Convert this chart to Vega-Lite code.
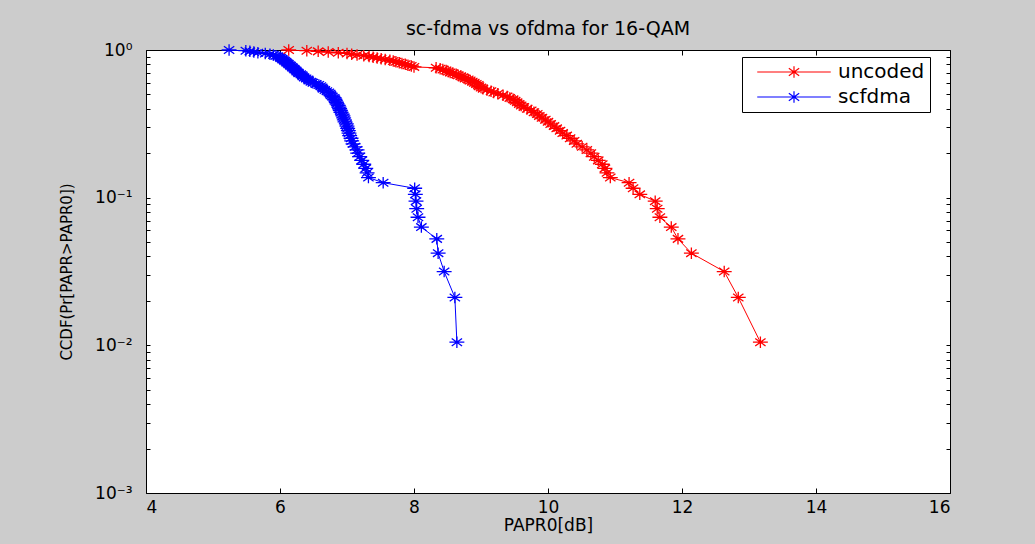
{
  "$schema": "https://vega.github.io/schema/vega-lite/v6.json",
  "width": 804,
  "height": 443,
  "autosize": {"type": "none"},
  "padding": {"left": 146, "top": 50, "right": 85, "bottom": 51},
  "background": "#cccccc",
  "title": {"text": "sc-fdma vs ofdma for 16-QAM", "font": "DejaVu Sans", "fontSize": 19, "fontWeight": "normal", "color": "black", "anchor": "middle", "offset": 2},
  "config": {
    "view": {"fill": "white", "stroke": "black", "strokeWidth": 1},
    "axis": {"grid": false, "domain": false, "tickColor": "black", "tickWidth": 1, "labelColor": "black", "labelFont": "DejaVu Sans", "labelFontSize": 17, "titleFont": "DejaVu Sans", "titleColor": "black", "titleFontWeight": "normal"},
    "legend": {"orient": "none", "legendX": 596, "legendY": 7, "strokeColor": "black", "fillColor": "white",
               "padding": 5, "symbolType": "M-6.4,0H6.4M0,-1V1M-0.9,-0.65L0.9,0.65M-0.9,0.65L0.9,-0.65", "symbolSize": 132, "symbolStrokeWidth": 1.2,
               "labelFont": "DejaVu Sans", "labelFontSize": 20, "labelColor": "black", "rowPadding": 5, "symbolOffset": 37, "labelOffset": 34,
               "labelExpr": "datum.label + '  '"}
  },
  "data": {"values": [
    {"p": 0.0105, "uncoded": 13.17, "scfdma": 8.64},
    {"p": 0.0211, "uncoded": 12.84, "scfdma": 8.61},
    {"p": 0.0316, "uncoded": 12.63, "scfdma": 8.45},
    {"p": 0.0421, "uncoded": 12.14, "scfdma": 8.36},
    {"p": 0.0526, "uncoded": 11.94, "scfdma": 8.34},
    {"p": 0.0632, "uncoded": 11.84, "scfdma": 8.11},
    {"p": 0.0737, "uncoded": 11.67, "scfdma": 8.06},
    {"p": 0.0842, "uncoded": 11.63, "scfdma": 8.04},
    {"p": 0.0947, "uncoded": 11.60, "scfdma": 8.03},
    {"p": 0.1053, "uncoded": 11.37, "scfdma": 8.02},
    {"p": 0.1158, "uncoded": 11.27, "scfdma": 8.01},
    {"p": 0.1263, "uncoded": 11.21, "scfdma": 7.54},
    {"p": 0.1368, "uncoded": 10.93, "scfdma": 7.32},
    {"p": 0.1474, "uncoded": 10.88, "scfdma": 7.30},
    {"p": 0.1579, "uncoded": 10.85, "scfdma": 7.28},
    {"p": 0.1684, "uncoded": 10.81, "scfdma": 7.25},
    {"p": 0.1789, "uncoded": 10.75, "scfdma": 7.22},
    {"p": 0.1895, "uncoded": 10.69, "scfdma": 7.19},
    {"p": 0.2, "uncoded": 10.64, "scfdma": 7.16},
    {"p": 0.2105, "uncoded": 10.58, "scfdma": 7.15},
    {"p": 0.2211, "uncoded": 10.51, "scfdma": 7.12},
    {"p": 0.2316, "uncoded": 10.43, "scfdma": 7.09},
    {"p": 0.2421, "uncoded": 10.39, "scfdma": 7.07},
    {"p": 0.2526, "uncoded": 10.33, "scfdma": 7.06},
    {"p": 0.2632, "uncoded": 10.28, "scfdma": 7.04},
    {"p": 0.2737, "uncoded": 10.22, "scfdma": 7.03},
    {"p": 0.2842, "uncoded": 10.18, "scfdma": 7.02},
    {"p": 0.2947, "uncoded": 10.13, "scfdma": 7.01},
    {"p": 0.3053, "uncoded": 10.09, "scfdma": 7.00},
    {"p": 0.3158, "uncoded": 10.04, "scfdma": 6.99},
    {"p": 0.3263, "uncoded": 10.00, "scfdma": 6.97},
    {"p": 0.3368, "uncoded": 9.96, "scfdma": 6.96},
    {"p": 0.3474, "uncoded": 9.91, "scfdma": 6.95},
    {"p": 0.3579, "uncoded": 9.87, "scfdma": 6.94},
    {"p": 0.3684, "uncoded": 9.84, "scfdma": 6.93},
    {"p": 0.3789, "uncoded": 9.79, "scfdma": 6.91},
    {"p": 0.3895, "uncoded": 9.75, "scfdma": 6.90},
    {"p": 0.4, "uncoded": 9.69, "scfdma": 6.89},
    {"p": 0.4105, "uncoded": 9.64, "scfdma": 6.88},
    {"p": 0.4211, "uncoded": 9.60, "scfdma": 6.87},
    {"p": 0.4316, "uncoded": 9.57, "scfdma": 6.85},
    {"p": 0.4421, "uncoded": 9.54, "scfdma": 6.84},
    {"p": 0.4526, "uncoded": 9.51, "scfdma": 6.83},
    {"p": 0.4632, "uncoded": 9.48, "scfdma": 6.82},
    {"p": 0.4737, "uncoded": 9.43, "scfdma": 6.81},
    {"p": 0.4842, "uncoded": 9.39, "scfdma": 6.78},
    {"p": 0.4947, "uncoded": 9.33, "scfdma": 6.76},
    {"p": 0.5053, "uncoded": 9.25, "scfdma": 6.75},
    {"p": 0.5158, "uncoded": 9.19, "scfdma": 6.73},
    {"p": 0.5263, "uncoded": 9.15, "scfdma": 6.70},
    {"p": 0.5368, "uncoded": 9.09, "scfdma": 6.67},
    {"p": 0.5474, "uncoded": 9.03, "scfdma": 6.64},
    {"p": 0.5579, "uncoded": 9.00, "scfdma": 6.63},
    {"p": 0.5684, "uncoded": 8.97, "scfdma": 6.61},
    {"p": 0.5789, "uncoded": 8.96, "scfdma": 6.58},
    {"p": 0.5895, "uncoded": 8.93, "scfdma": 6.54},
    {"p": 0.6, "uncoded": 8.90, "scfdma": 6.49},
    {"p": 0.6105, "uncoded": 8.87, "scfdma": 6.46},
    {"p": 0.6211, "uncoded": 8.84, "scfdma": 6.43},
    {"p": 0.6316, "uncoded": 8.81, "scfdma": 6.42},
    {"p": 0.6421, "uncoded": 8.76, "scfdma": 6.39},
    {"p": 0.6526, "uncoded": 8.73, "scfdma": 6.36},
    {"p": 0.6632, "uncoded": 8.70, "scfdma": 6.34},
    {"p": 0.6737, "uncoded": 8.66, "scfdma": 6.33},
    {"p": 0.6842, "uncoded": 8.63, "scfdma": 6.31},
    {"p": 0.6947, "uncoded": 8.58, "scfdma": 6.28},
    {"p": 0.7053, "uncoded": 8.54, "scfdma": 6.27},
    {"p": 0.7158, "uncoded": 8.51, "scfdma": 6.25},
    {"p": 0.7263, "uncoded": 8.48, "scfdma": 6.24},
    {"p": 0.7368, "uncoded": 8.43, "scfdma": 6.22},
    {"p": 0.7474, "uncoded": 8.39, "scfdma": 6.21},
    {"p": 0.7579, "uncoded": 8.33, "scfdma": 6.19},
    {"p": 0.7684, "uncoded": 8.00, "scfdma": 6.18},
    {"p": 0.7789, "uncoded": 7.96, "scfdma": 6.16},
    {"p": 0.7895, "uncoded": 7.91, "scfdma": 6.15},
    {"p": 0.8, "uncoded": 7.87, "scfdma": 6.13},
    {"p": 0.8105, "uncoded": 7.82, "scfdma": 6.12},
    {"p": 0.8211, "uncoded": 7.78, "scfdma": 6.10},
    {"p": 0.8316, "uncoded": 7.73, "scfdma": 6.09},
    {"p": 0.8421, "uncoded": 7.69, "scfdma": 6.07},
    {"p": 0.8526, "uncoded": 7.64, "scfdma": 6.06},
    {"p": 0.8632, "uncoded": 7.57, "scfdma": 6.04},
    {"p": 0.8737, "uncoded": 7.51, "scfdma": 6.03},
    {"p": 0.8842, "uncoded": 7.45, "scfdma": 6.01},
    {"p": 0.8947, "uncoded": 7.39, "scfdma": 6.00},
    {"p": 0.9053, "uncoded": 7.33, "scfdma": 5.97},
    {"p": 0.9158, "uncoded": 7.25, "scfdma": 5.94},
    {"p": 0.9263, "uncoded": 7.15, "scfdma": 5.90},
    {"p": 0.9368, "uncoded": 7.07, "scfdma": 5.85},
    {"p": 0.9474, "uncoded": 7.00, "scfdma": 5.78},
    {"p": 0.9579, "uncoded": 6.87, "scfdma": 5.67},
    {"p": 0.9684, "uncoded": 6.72, "scfdma": 5.61},
    {"p": 0.9789, "uncoded": 6.57, "scfdma": 5.55},
    {"p": 0.9895, "uncoded": 6.40, "scfdma": 5.49},
    {"p": 1, "uncoded": 6.13, "scfdma": 5.24}
  ]},
  "transform": [{"fold": ["uncoded", "scfdma"], "as": ["series", "x"]}],
  "resolve": {"axis": {"x": "independent", "y": "independent"}},
  "layer": [
    {
      "mark": {"type": "line", "strokeWidth": 1, "clip": true},
      "encoding": {
        "x": {"field": "x", "type": "quantitative", "scale": {"domain": [4, 16], "nice": false, "zero": false},
              "axis": {"orient": "bottom", "values": [4, 6, 8, 10, 12, 14, 16], "tickSize": -5, "labelPadding": 11, "title": "PAPR0[dB]", "titleFontSize": 17, "titlePadding": 2}},
        "y": {"field": "p", "type": "quantitative", "scale": {"type": "log", "domain": [0.001, 1], "nice": false},
              "axis": {"orient": "left", "values": [0.001, 0.002, 0.003, 0.004, 0.005, 0.006, 0.007, 0.008, 0.009, 0.01, 0.02, 0.03, 0.04, 0.05, 0.06, 0.07, 0.08, 0.09, 0.1, 0.2, 0.3, 0.4, 0.5, 0.6, 0.7, 0.8, 0.9, 1],
                       "labelExpr": "datum.value == 1 ? '10⁰' : datum.value == 0.1 ? '10⁻¹' : datum.value == 0.01 ? '10⁻²' : datum.value == 0.001 ? '10⁻³' : ''",
                       "tickSize": -4, "labelPadding": 18, "title": "CCDF(Pr[PAPR>PAPR0])", "titleFontSize": 15, "titlePadding": 20}},
        "color": {"field": "series", "type": "nominal", "scale": {"domain": ["uncoded", "scfdma"], "range": ["#ff0000", "#0000ff"]}, "legend": {"title": null}},
        "order": {"field": "p", "type": "quantitative"}
      }
    },
    {
      "mark": {"type": "point", "shape": "M-1.3,0H1.3M0,-1V1M-0.9,-0.65L0.9,0.65M-0.9,0.65L0.9,-0.65", "filled": false, "size": 132, "strokeWidth": 1.3, "opacity": 1},
      "encoding": {
        "x": {"field": "x", "type": "quantitative", "scale": {"domain": [4, 16], "nice": false, "zero": false},
              "axis": {"orient": "top", "values": [4, 6, 8, 10, 12, 14, 16], "tickSize": -5, "labels": false, "title": null}},
        "y": {"field": "p", "type": "quantitative", "scale": {"type": "log", "domain": [0.001, 1], "nice": false},
              "axis": {"orient": "right", "values": [0.001, 0.002, 0.003, 0.004, 0.005, 0.006, 0.007, 0.008, 0.009, 0.01, 0.02, 0.03, 0.04, 0.05, 0.06, 0.07, 0.08, 0.09, 0.1, 0.2, 0.3, 0.4, 0.5, 0.6, 0.7, 0.8, 0.9, 1], "tickSize": -4, "labels": false, "title": null}},
        "color": {"field": "series", "type": "nominal", "scale": {"domain": ["uncoded", "scfdma"], "range": ["#ff0000", "#0000ff"]}, "legend": {"title": null}}
      }
    }
  ]
}
